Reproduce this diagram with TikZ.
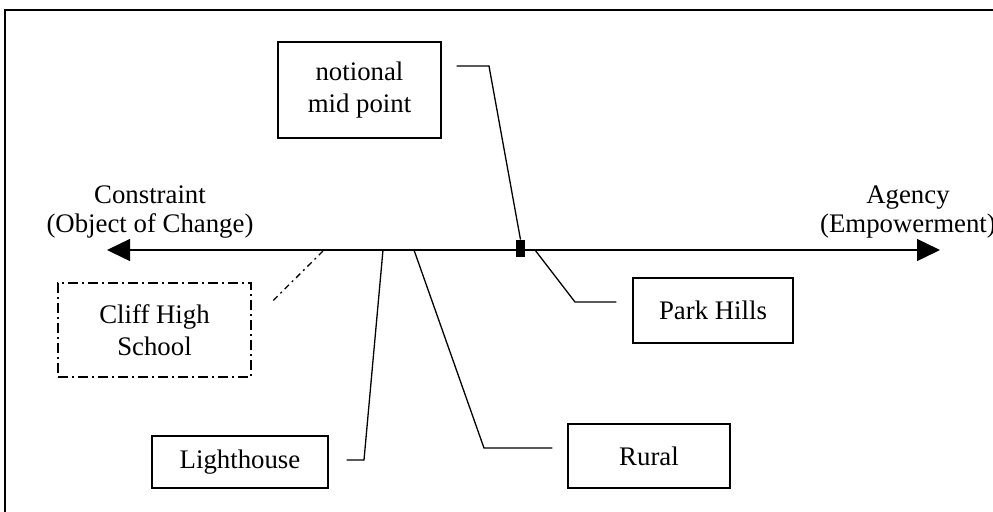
\documentclass[tikz,border=0pt]{standalone}
\usepackage{fontspec}
\setmainfont{Liberation Serif}
\usetikzlibrary{arrows.meta,calc,positioning}

\tikzset{
  placebox/.style={draw,line width=0.65pt,inner sep=0pt,align=center,font=\fontsize{13.4}{16}\selectfont},
  leader/.style={line width=0.65pt},
  polelabel/.style={align=center,inner sep=0pt,font=\fontsize{13.4}{14.5}\selectfont},
}

\begin{document}
\begin{tikzpicture}[x=0.5pt,y=-0.5pt,>=Latex]
  \useasboundingbox (0,0) rectangle (993,511);
  \begin{scope}
    \clip (0,0) rectangle (993,511);
    \draw[line width=0.8pt] (5,10) rectangle (1010,530);
  \end{scope}

  % the continuum
  \coordinate (lefttip) at (107,250);
  \coordinate (righttip) at (940,250);
  \draw[line width=0.7pt,{Triangle[length=11.5pt,width=11pt]}-{Triangle[length=11.5pt,width=11pt]}] (lefttip) -- (righttip);
  \node[polelabel] (conlab) at (150,212) {Constraint\\(Object of Change)};
  \node[polelabel] (agelab) at (908,212) {Agency\\(Empowerment)};

  \node[fill=black,inner sep=0pt,minimum width=4.5pt,minimum height=8.5pt] (mid) at (520.5,248.5) {};

  % places
  \node[placebox,minimum width=81.5pt,minimum height=48pt] (nmp) at (359.5,90) {notional\\mid point};
  \node[placebox,minimum width=80pt,minimum height=32.5pt] (park) at (713,310.5) {Park Hills};
  \node[placebox,minimum width=81pt,minimum height=32pt] (rural) at (649,456) {Rural};
  \node[placebox,minimum width=88pt,minimum height=26pt] (light) at (240,462) {Lighthouse};
  \node[placebox,minimum width=96.5pt,minimum height=47pt,
        dash pattern=on 5pt off 2pt on 1pt off 2pt] (cliff) at (154.5,330) {Cliff High\\School};

  \coordinate (nmpbend) at (489,66);
  \draw[leader] ([xshift=7.5pt]nmp.east |- nmpbend) -- (nmpbend) -- (mid.north);

  \coordinate (parkfoot) at (535,250);
  \coordinate (parkbend) at (575,302);
  \coordinate (ruralfoot) at (414,250);
  \coordinate (ruralbend) at (484,448);
  \coordinate (lightfoot) at (383,250);
  \coordinate (lightbend) at (364,460);
  \foreach \ft/\bd/\tg/\sh in {parkfoot/parkbend/park.west/-8pt,ruralfoot/ruralbend/rural.west/-7.5pt,lightfoot/lightbend/light.east/9pt}
    \draw[leader] (\ft) -- (\bd) -- ([xshift=\sh]\tg |- \bd);

  \coordinate (clifffoot) at (323,251);
  \coordinate (cliffend) at (270,303);
  \draw[leader,dash pattern=on 3pt off 2pt on 1pt off 2pt] (clifffoot) -- ([xshift=9.5pt]cliff.east |- cliffend);
\end{tikzpicture}
\end{document}
